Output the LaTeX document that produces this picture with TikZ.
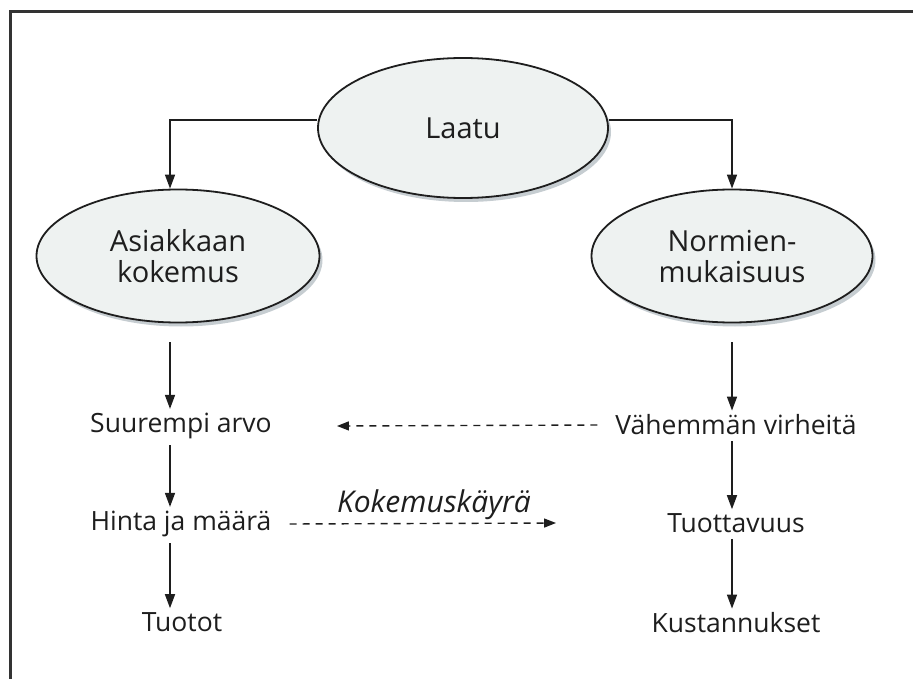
\documentclass[tikz,border=0pt]{standalone}
\usepackage{fontspec}
\setmainfont{Open Sans}
\usetikzlibrary{arrows.meta,shapes.geometric,shadows}
\definecolor{ink}{HTML}{1E1E1E}
\definecolor{ellfill}{HTML}{EEF2F1}
\definecolor{shade}{HTML}{AEB8BE}
\definecolor{framec}{HTML}{333333}
\tikzset{
  oval/.style={ellipse, draw=ink, line width=1.8pt, fill=ellfill, text=ink,
    align=center, font=\fontsize{29}{31}\selectfont, inner sep=0pt,
    drop shadow={shadow xshift=3pt, shadow yshift=-4pt, fill=shade, opacity=0.7}},
  lbl/.style={text=ink, font=\fontsize{26.5}{28}\selectfont, inner sep=0pt, anchor=center},
  arr/.style={draw=ink, line width=1.5pt, -{Triangle[length=14pt,width=10pt]}},
  darr/.style={draw=ink, line width=1.4pt, dash pattern=on 7pt off 6pt, -{Triangle[length=12pt,width=9pt]}},
}
\begin{document}
\begin{tikzpicture}[x=1pt,y=-1pt]
\useasboundingbox (0,0) rectangle (913,679);
\draw[framec, line width=3pt] (913,12) -- (10,12) -- (10,679);
\coordinate (lx) at (170,0);
\coordinate (rx) at (732,0);
\node[oval, minimum width=290pt, minimum height=140pt] (laatu) at (463,128) {Laatu};
\node[oval, minimum width=283pt, minimum height=133pt] (asiak) at (178,256) {Asiakkaan\\kokemus};
\node[oval, minimum width=281pt, minimum height=133pt] (normi) at (732,256) {Normien-\\mukaisuus};
\node[lbl] (suur) at (181,426) {Suurempi arvo};
\node[lbl] (hinta) at (181,524) {Hinta ja määrä};
\node[lbl] (tuotot) at (182,622) {Tuotot};
\node[lbl] (vahem) at (736,425) {Vähemmän virheitä};
\node[lbl] (tuott) at (736,523) {Tuottavuus};
\node[lbl] (kust) at (736,623) {Kustannukset};
\node[lbl, font=\fontsize{30}{32}\selectfont\itshape] (koke) at (434,505) {Kokemuskäyrä};
% top branches
\draw[arr] ([yshift=8pt]laatu.west) -| (asiak.north -| lx);
\draw[arr] ([yshift=8pt]laatu.east) -| (normi.north -| rx);
% left column
\draw[arr] ([yshift=-19pt]asiak.south -| lx) -- ([yshift=4pt]suur.north -| lx);
\draw[arr] ([yshift=-6pt]suur.south -| lx) -- ([yshift=4pt]hinta.north -| lx);
\draw[arr] ([yshift=-6pt]hinta.south -| lx) -- ([yshift=4pt]tuotot.north -| lx);
% right column
\draw[arr] ([yshift=-19pt]normi.south -| rx) -- ([yshift=4pt]vahem.north -| rx);
\draw[arr] ([yshift=-6pt]vahem.south -| rx) -- ([yshift=4pt]tuott.north -| rx);
\draw[arr] ([yshift=-6pt]tuott.south -| rx) -- ([yshift=4pt]kust.north -| rx);
% dashed
\draw[darr] ([xshift=-18pt]vahem.west) -- ([xshift=65pt]suur.east);
\draw[darr] ([xshift=18pt]hinta.east) -- ([xshift=-111pt]tuott.west);
\end{tikzpicture}
\end{document}
